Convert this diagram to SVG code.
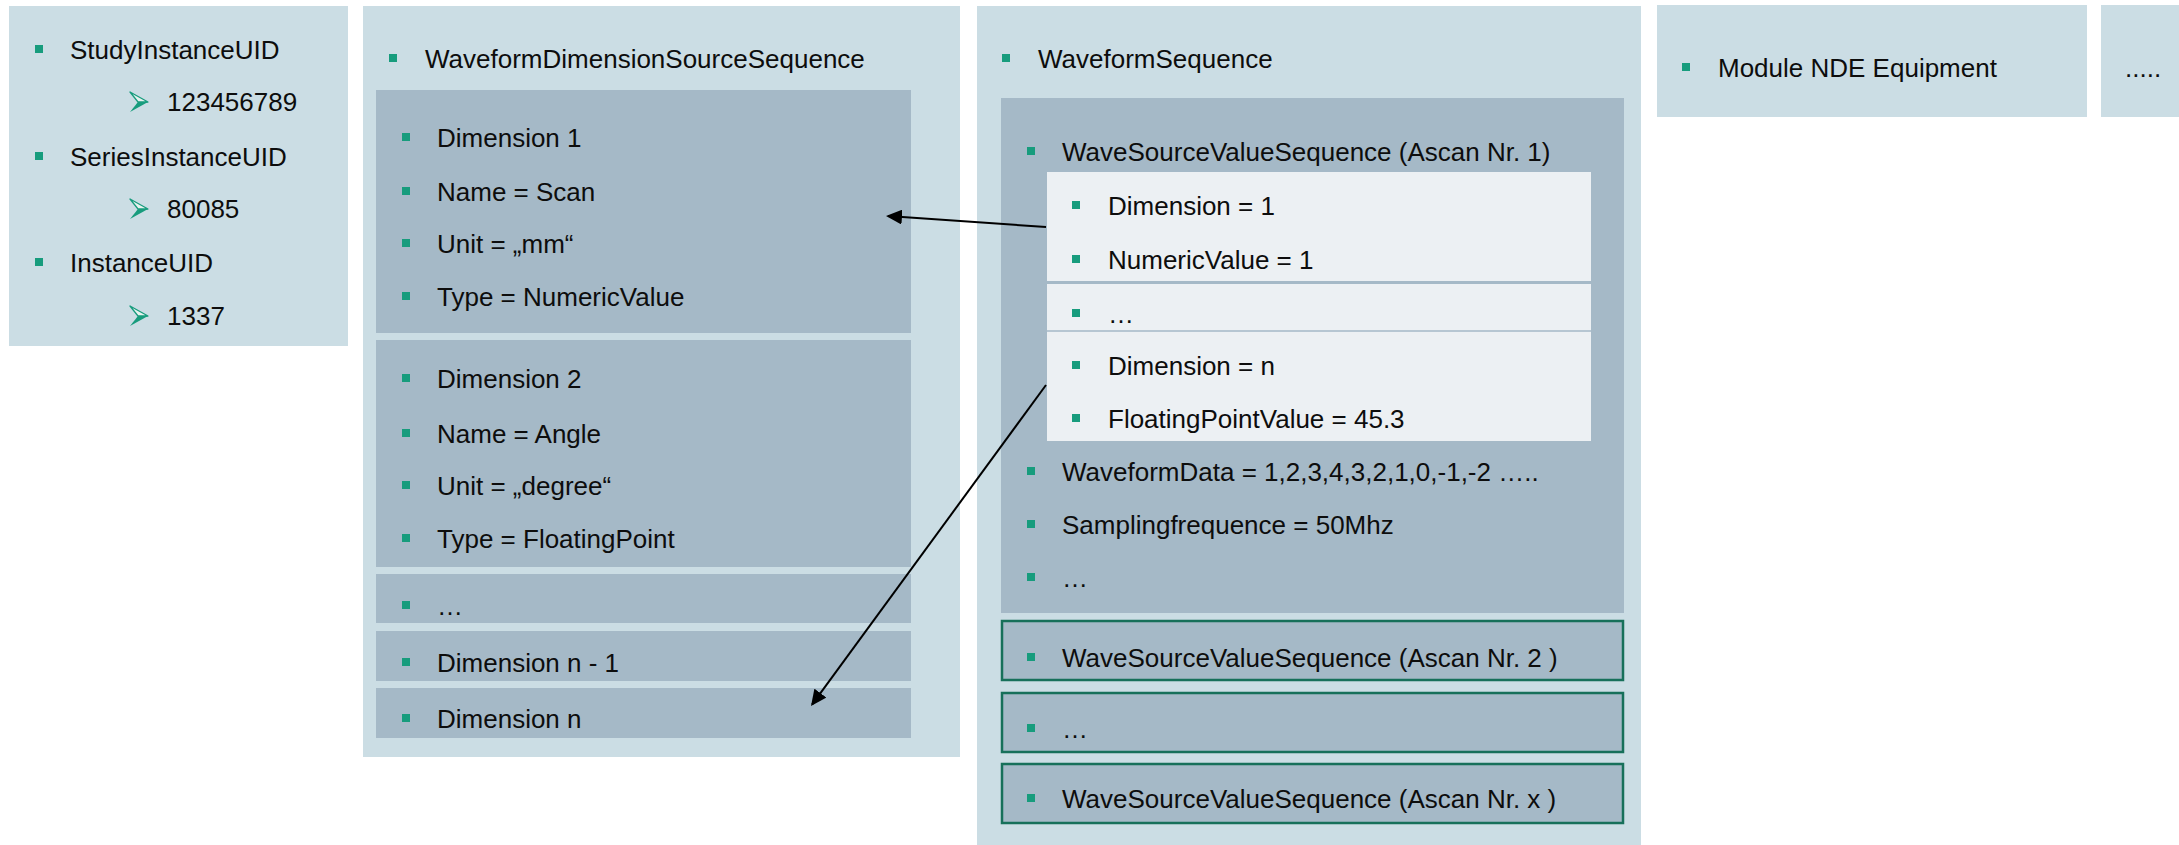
<svg xmlns="http://www.w3.org/2000/svg" xmlns:xlink="http://www.w3.org/1999/xlink" width="2179" height="845" viewBox="0 0 2179 845">
<style>
.p{fill:#CBDDE4}
.d{fill:#A5B9C7}
.l{fill:#ECF0F3}
.o{fill:#A5B9C7;stroke:#17705A;stroke-width:2.5}
.b{fill:#179C7D}
.sep{stroke:#A5B9C7;stroke-width:1.5}
text{font-family:"Liberation Sans",Arial,sans-serif;font-size:26px;fill:#0D0D0D}
.c{stroke:#000;stroke-width:2;fill:none;marker-end:url(#ah)}
</style>
<defs>
<marker id="ah" markerUnits="userSpaceOnUse" markerWidth="16" markerHeight="15" refX="14" refY="7.5" orient="auto">
<path d="M0,0 L16,7.5 L0,15 Z" fill="#000"/>
</marker>
<g id="ab">
<polygon points="0,0 18,10 8,10" fill="#E6F2EE" stroke="#179C7D" stroke-width="1.3" stroke-linejoin="round"/>
<polygon points="0,20 18,10 8,10" fill="#179C7D"/>
</g>
<rect id="sq" width="8" height="8" class="b"/>
</defs>
<rect width="2179" height="845" fill="#FFFFFF"/>

<g id="study">
<rect class="p" x="9" y="6" width="339" height="340"/>
<use xlink:href="#sq" x="35" y="45"/>
<text x="70" y="59">StudyInstanceUID</text>
<use xlink:href="#ab" x="130" y="92"/>
<text x="167" y="111">123456789</text>
<use xlink:href="#sq" x="35" y="152"/>
<text x="70" y="166">SeriesInstanceUID</text>
<use xlink:href="#ab" x="130" y="199"/>
<text x="167" y="218">80085</text>
<use xlink:href="#sq" x="35" y="258"/>
<text x="70" y="272">InstanceUID</text>
<use xlink:href="#ab" x="130" y="306"/>
<text x="167" y="325">1337</text>
</g>

<g id="dimsource">
<rect class="p" x="363" y="6" width="597" height="751"/>
<use xlink:href="#sq" x="389" y="54"/>
<text x="425" y="68">WaveformDimensionSourceSequence</text>
<g id="dim1">
<rect class="d" x="376" y="90" width="535" height="243"/>
<use xlink:href="#sq" x="402" y="133"/>
<text x="437" y="147">Dimension 1</text>
<use xlink:href="#sq" x="402" y="187"/>
<text x="437" y="201">Name = Scan</text>
<use xlink:href="#sq" x="402" y="239"/>
<text x="437" y="253">Unit = „mm“</text>
<use xlink:href="#sq" x="402" y="292"/>
<text x="437" y="306">Type = NumericValue</text>
</g>
<g id="dim2">
<rect class="d" x="376" y="340" width="535" height="227"/>
<use xlink:href="#sq" x="402" y="374"/>
<text x="437" y="388">Dimension 2</text>
<use xlink:href="#sq" x="402" y="429"/>
<text x="437" y="443">Name = Angle</text>
<use xlink:href="#sq" x="402" y="481"/>
<text x="437" y="495">Unit = „degree“</text>
<use xlink:href="#sq" x="402" y="534"/>
<text x="437" y="548">Type = FloatingPoint</text>
</g>
<g id="dimdots">
<rect class="d" x="376" y="574" width="535" height="49"/>
<use xlink:href="#sq" x="402" y="601"/>
<text x="437" y="615">…</text>
</g>
<g id="dimn1">
<rect class="d" x="376" y="631" width="535" height="50"/>
<use xlink:href="#sq" x="402" y="658"/>
<text x="437" y="672">Dimension n - 1</text>
</g>
<g id="dimn">
<rect class="d" x="376" y="688" width="535" height="50"/>
<use xlink:href="#sq" x="402" y="714"/>
<text x="437" y="728">Dimension n</text>
</g>
</g>

<g id="waveform">
<rect class="p" x="977" y="6" width="664" height="839"/>
<use xlink:href="#sq" x="1002" y="54"/>
<text x="1038" y="68">WaveformSequence</text>
<g id="ascan1">
<rect class="d" x="1001" y="98" width="623" height="515"/>
<use xlink:href="#sq" x="1027" y="147"/>
<text x="1062" y="161">WaveSourceValueSequence (Ascan Nr. 1)</text>
<g id="values">
<rect class="l" x="1047" y="172" width="544" height="109"/>
<rect class="l" x="1047" y="284" width="544" height="157"/>
<line class="sep" x1="1047" y1="331" x2="1591" y2="331"/>
<use xlink:href="#sq" x="1072" y="201"/>
<text x="1108" y="215">Dimension = 1</text>
<use xlink:href="#sq" x="1072" y="255"/>
<text x="1108" y="269">NumericValue = 1</text>
<use xlink:href="#sq" x="1072" y="309"/>
<text x="1108" y="323">…</text>
<use xlink:href="#sq" x="1072" y="361"/>
<text x="1108" y="375">Dimension = n</text>
<use xlink:href="#sq" x="1072" y="414"/>
<text x="1108" y="428">FloatingPointValue = 45.3</text>
</g>
<use xlink:href="#sq" x="1027" y="467"/>
<text x="1062" y="481">WaveformData = 1,2,3,4,3,2,1,0,-1,-2 …..</text>
<use xlink:href="#sq" x="1027" y="520"/>
<text x="1062" y="534">Samplingfrequence = 50Mhz</text>
<use xlink:href="#sq" x="1027" y="573"/>
<text x="1062" y="587">…</text>
</g>
<g id="ascan2">
<rect class="o" x="1002" y="621" width="621" height="59"/>
<use xlink:href="#sq" x="1027" y="653"/>
<text x="1062" y="667">WaveSourceValueSequence (Ascan Nr. 2 )</text>
</g>
<g id="ascandots">
<rect class="o" x="1002" y="693" width="621" height="59"/>
<use xlink:href="#sq" x="1027" y="724"/>
<text x="1062" y="738">…</text>
</g>
<g id="ascanx">
<rect class="o" x="1002" y="764" width="621" height="59"/>
<use xlink:href="#sq" x="1027" y="794"/>
<text x="1062" y="808">WaveSourceValueSequence (Ascan Nr. x )</text>
</g>
</g>

<g id="nde">
<rect class="p" x="1657" y="5" width="430" height="112"/>
<use xlink:href="#sq" x="1682" y="63"/>
<text x="1718" y="77">Module NDE Equipment</text>
</g>

<g id="more">
<rect class="p" x="2101" y="5" width="78" height="112"/>
<text x="2125" y="77">.....</text>
</g>

<g id="connectors">
<line class="c" x1="1046" y1="227" x2="888" y2="216.1"/>
<line class="c" x1="1046" y1="385" x2="812.2" y2="704.4"/>
</g>
</svg>
